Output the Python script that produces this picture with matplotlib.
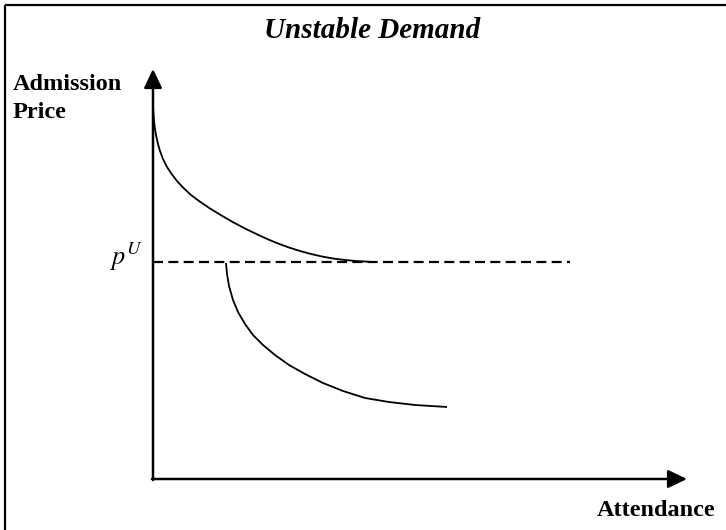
import matplotlib
matplotlib.use("Agg")
import matplotlib.pyplot as plt

plt.rcParams['mathtext.fontset'] = 'stix'

# Data (arbitrary units, origin at the axes corner)
curve1_x = [0, 1, 2, 3, 5, 7, 10, 14, 19, 24, 30, 38, 47, 57, 68, 80, 92, 104,
            114, 125, 136, 147, 158, 169, 180, 192, 204, 217]
curve1_y = [372, 358, 350, 344, 335, 328, 320, 312, 304.5, 298, 291.5, 284, 277.3,
            270.5, 263.8, 256.8, 250.5, 244.7, 240.1, 235.5, 231.5, 228, 225,
            222.5, 220.5, 219, 217.9, 217.2]
curve2_x = [73, 74, 76, 80, 85, 92, 100, 110, 122, 136, 152, 170, 190, 212, 236, 262, 294]
curve2_y = [216, 205, 193, 179, 167, 155, 144, 134, 124, 114, 105, 96, 88, 81, 77, 74, 72]
p_u = 217
dash_end = 417
y_axis_top = 410
x_axis_end = 534

title = "Unstable Demand"
ylabel_lines = ["Admission", "Price"]
xlabel = "Attendance"
price_label = r"$p^U$"

W, H = 726, 530
fig = plt.figure(figsize=(W / 100, H / 100), dpi=100)
ax = fig.add_axes([0, 0, 1, 1])
ox, oy = 153, 479  # pixel position of the origin
ax.set_xlim(-ox, W - ox)
ax.set_ylim(oy - H, oy)
ax.axis('off')

# frame lines (top and left)
ax.plot([5 - ox, W - ox], [oy - 5, oy - 5], color='black', lw=1.6, solid_capstyle='butt')
ax.plot([5 - ox, 5 - ox], [oy - 5, oy - H], color='black', lw=1.6, solid_capstyle='butt')

# axes arrows
arrow_style = '-|>,head_length=1.15,head_width=0.55'
ax.annotate('', xy=(0, y_axis_top), xytext=(0, -1),
            arrowprops=dict(arrowstyle=arrow_style, lw=1.8, color='black',
                            shrinkA=0, shrinkB=0))
ax.annotate('', xy=(x_axis_end, 0), xytext=(-1, 0),
            arrowprops=dict(arrowstyle=arrow_style, lw=1.8, color='black',
                            shrinkA=0, shrinkB=0))

# dashed price line
ax.plot([0, dash_end], [p_u, p_u], color='black', lw=1.6, dashes=(4.5, 2.4))

# curves
ax.plot(curve1_x, curve1_y, color='black', lw=1.3, solid_capstyle='butt',
        solid_joinstyle='round')
ax.plot(curve2_x, curve2_y, color='black', lw=1.3, solid_capstyle='butt',
        solid_joinstyle='round')

serif = ['Liberation Serif', 'DejaVu Serif']
ax.text(372 - ox, oy - 31, title, family=serif, fontsize=21, fontweight='bold',
        fontstyle='italic', ha='center', va='center')
ax.text(13 - ox, oy - 84, ylabel_lines[0], family=serif, fontsize=17.5,
        fontweight='bold', ha='left', va='center')
ax.text(13 - ox, oy - 113, ylabel_lines[1], family=serif, fontsize=17.5,
        fontweight='bold', ha='left', va='center')
ax.text(715 - ox, oy - 510, xlabel, family=serif, fontsize=17.5,
        fontweight='bold', ha='right', va='center')
ax.text(143 - ox, p_u + 5, price_label, fontsize=19, ha='right', va='center')

fig.savefig('out.png', dpi=100)
